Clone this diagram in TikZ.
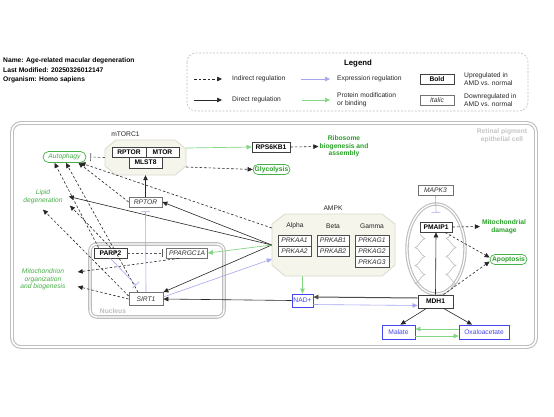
\documentclass[tikz,border=0pt]{standalone}
\usepackage{fontspec}
\setmainfont{Liberation Sans}
\usetikzlibrary{arrows.meta,shapes.misc}
\definecolor{cellgray}{RGB}{190,190,190}
\definecolor{txtgreen}{RGB}{70,175,70}
\definecolor{boldgreen}{RGB}{40,160,40}
\definecolor{lgreen}{RGB}{130,215,130}
\definecolor{exprblue}{RGB}{165,165,240}
\definecolor{metblue}{RGB}{70,70,240}
\definecolor{octfill}{RGB}{245,245,236}
\definecolor{octdraw}{RGB}{218,218,205}
\newcommand\myfs{\fontsize{6.7}{7.6}\selectfont}
\tikzset{
  gene/.style={draw=black!75, line width=0.8pt, fill=white, inner sep=0pt, minimum height=10pt, font=\myfs\bfseries},
  genei/.style={draw=black!55, line width=0.7pt, fill=white, inner sep=0pt, minimum height=10pt, font=\myfs\itshape, text=black!80},
  met/.style={draw=metblue, line width=0.8pt, fill=white, inner sep=0pt, text=metblue, font=\myfs},
  pill/.style={rounded rectangle, draw=txtgreen, line width=0.7pt, fill=white, inner sep=1pt, text=txtgreen, font=\myfs\itshape},
  pillb/.style={rounded rectangle, draw=txtgreen, line width=0.7pt, fill=white, inner sep=1pt, text=boldgreen, font=\myfs\bfseries},
  lab/.style={text=txtgreen, font=\myfs\itshape, align=center, inner sep=2pt},
  boldlab/.style={text=boldgreen, font=\myfs\bfseries, align=center, inner sep=2pt},
  plain/.style={font=\myfs, text=black!85, inner sep=1pt},
  tip/.style={-{Triangle[length=5pt,width=4.5pt]}},
  ind/.style={tip, black!85, line width=0.6pt, dash pattern=on 2.5pt off 2pt},
  dir/.style={tip, black!85, line width=0.6pt},
  dirthick/.style={tip, black!70, line width=1pt},
  expr/.style={-{Triangle[length=5pt,width=4.5pt]}, exprblue, line width=0.6pt},
  prot/.style={-{Triangle[length=5pt,width=4.5pt]}, lgreen, line width=0.7pt},
  inhdash/.style={-{Bar[width=8pt]}, black!65, line width=0.6pt, dash pattern=on 2.5pt off 2pt},
  inhblue/.style={-{Bar[width=9pt]}, exprblue, line width=0.6pt},
  oct/.style={fill=octfill, draw=octdraw, line width=0.8pt},
  cris/.style={cellgray, line width=0.6pt}
}
\begin{document}
\begin{tikzpicture}[x=1pt,y=-1pt]
\useasboundingbox (0,0) rectangle (554,416);
\fill[white] (0,0) rectangle (554,416);

% header
\node[anchor=west, font=\myfs\bfseries, inner sep=0] (t1) at (3,61) {Name: Age-related macular degeneration};
\node[anchor=west, font=\myfs\bfseries, inner sep=0] (t2) at (3,70.5) {Last Modified: 20250326012147};
\node[anchor=west, font=\myfs\bfseries, inner sep=0] (t3) at (3,80) {Organism: Homo sapiens};

% legend
\draw[gray!50, line width=0.6pt, dash pattern=on 2pt off 1.5pt, rounded corners=9pt] (187,53) rectangle (528,111);
\node[font=\fontsize{7.8}{9}\selectfont\bfseries] (lgtitle) at (358,63) {Legend};
\coordinate (l1a) at (194,79); \coordinate (l1b) at (222,79);
\draw[ind] (l1a) -- (l1b);
\node[plain, anchor=west] (l1t) at (231,79) {Indirect regulation};
\coordinate (l2a) at (301,79); \coordinate (l2b) at (330,79);
\draw[expr] (l2a) -- (l2b);
\node[plain, anchor=west] (l2t) at (336,79) {Expression regulation};
\node[gene, minimum width=34pt, minimum height=10pt] (lbold) at (437,79) {Bold};
\node[plain, anchor=west, align=left] (lup) at (463,79) {Upregulated in\\AMD vs. normal};
\coordinate (l3a) at (194,100); \coordinate (l3b) at (222,100);
\draw[dir] (l3a) -- (l3b);
\node[plain, anchor=west] (l3t) at (231,100) {Direct regulation};
\coordinate (l4a) at (302,100); \coordinate (l4b) at (330,100);
\draw[prot] (l4a) -- (l4b);
\node[plain, anchor=west, align=left] (l4t) at (336,100) {Protein modification\\or binding};
\node[genei, minimum width=34pt, minimum height=10pt] (lital) at (437,100) {Italic};
\node[plain, anchor=west, align=left] (ldown) at (463,100) {Downregulated in\\AMD vs. normal};

% cell
\draw[cellgray, line width=1.1pt, double=white, double distance=1.6pt, rounded corners=9pt] (12,123) rectangle (536,347);
\node[font=\myfs\bfseries, text=cellgray!90, align=center] (cellname) at (502,135.5) {Retinal pigment\\epithelial cell};

% nucleus
\draw[cellgray, line width=1.1pt, double=white, double distance=1.4pt, rounded corners=7pt] (90,244) rectangle (224,317);
\node[font=\myfs\bfseries, text=cellgray] (nuclab) at (113,311) {Nucleus};

% mitochondrion
\draw[cellgray, line width=1.1pt, double=white, double distance=1.2pt] (436,249) ellipse (29pt and 45pt);
\draw[cris] (420,234) sin (425,238.5) cos (420,243) sin (415,247.5) cos (420,252) sin (425,256.5) cos (420,261) sin (415,265.5) cos (420,270) sin (425,274.5) cos (420,279) sin (415,283.5) cos (420,288);
\draw[cris] (451,234) sin (446,238.5) cos (451,243) sin (456,247.5) cos (451,252) sin (446,256.5) cos (451,261) sin (456,265.5) cos (451,270) sin (446,274.5) cos (451,279) sin (456,283.5) cos (451,288);

% mTORC1 complex
\node[plain] (mtorlab) at (125.5,134) {mTORC1};
\draw[oct] (116,140)--(175,140)--(186,149)--(186,166)--(175,175)--(116,175)--(105,166)--(105,149)--cycle;
\node[inner sep=0, minimum width=81pt, minimum height=35pt] (mtorc1) at (145.5,157.5) {};
\node[gene, minimum width=34pt] (rptorc) at (129,152) {RPTOR};
\node[gene, minimum width=33pt] (mtor) at (162.5,152) {MTOR};
\node[gene, minimum width=33pt, minimum height=11pt] (mlst8) at (145.5,162.5) {MLST8};

% AMPK complex
\node[plain] (ampklab) at (333,208) {AMPK};
\draw[oct] (285,214)--(382,214)--(395,224)--(395,265)--(382,276)--(285,276)--(272,265)--(272,224)--cycle;
\node[inner sep=0, minimum width=123pt, minimum height=62pt] (ampk) at (333.5,245) {};
\node[plain] (alpha) at (295,226) {Alpha};
\node[plain] (beta) at (333,226) {Beta};
\node[plain] (gamma) at (372,226) {Gamma};
\node[genei, minimum width=33pt, minimum height=10.8pt, draw=black!70] (prkaa1) at (294.5,240.5) {PRKAA1};
\node[genei, minimum width=33pt, minimum height=10.8pt, draw=black!70] (prkaa2) at (294.5,251.3) {PRKAA2};
\node[genei, minimum width=32pt, minimum height=10.8pt, draw=black!70] (prkab1) at (333,240.5) {PRKAB1};
\node[genei, minimum width=32pt, minimum height=10.8pt, draw=black!70] (prkab2) at (333,251.3) {PRKAB2};
\node[genei, minimum width=34pt, minimum height=10.8pt, draw=black!70] (prkag1) at (372,240.5) {PRKAG1};
\node[genei, minimum width=34pt, minimum height=10.8pt, draw=black!70] (prkag2) at (372,251.3) {PRKAG2};
\node[genei, minimum width=34pt, minimum height=10.8pt, draw=black!70] (prkag3) at (372,262.1) {PRKAG3};

% other nodes
\node[pill, minimum width=45pt, minimum height=11pt] (autoph) at (64.5,157) {Autophagy};
\node[gene, minimum width=38pt] (rps) at (271,147) {RPS6KB1};
\node[boldlab] (ribo) at (344,146.5) {Ribosome\\biogenesis and\\assembly};
\node[pillb, minimum width=39pt, minimum height=10pt] (glyc) at (271.5,169.5) {Glycolysis};
\node[genei, minimum width=33pt] (rptor) at (145.5,202) {RPTOR};
\node[lab] (lipid) at (43,196.5) {Lipid\\degeneration};
\node[lab] (mito) at (43,279.5) {Mitochondrion\\organization\\and biogenesis};
\node[gene, minimum width=33pt] (parp2) at (110.5,253) {PARP2};
\node[genei, minimum width=41pt] (ppargc) at (187,253) {PPARGC1A};
\node[genei, minimum width=34pt, minimum height=13pt] (sirt1) at (146,299) {SIRT1};
\node[met, minimum width=21pt, minimum height=13pt] (nad) at (302.5,300.5) {NAD+};
\node[gene, minimum width=35pt, minimum height=13pt] (mdh1) at (435.5,301.5) {MDH1};
\node[met, minimum width=33pt, minimum height=14pt] (malate) at (398.5,332) {Malate};
\node[met, minimum width=50pt, minimum height=14pt] (oxal) at (484,332) {Oxaloacetate};
\node[genei, minimum width=35pt] (mapk3) at (435.5,190.5) {MAPK3};
\node[gene, minimum width=32pt] (pmaip1) at (436,227) {PMAIP1};
\node[boldlab] (mitodam) at (504,226.5) {Mitochondrial\\damage};
\node[pillb, minimum width=39pt, minimum height=10pt] (apop) at (508.5,259.5) {Apoptosis};

% connectors
\draw[inhdash] (mtorc1.west) -- ([xshift=4pt]autoph.east);
\draw[prot] ([yshift=9.5pt]mtorc1.east) -- (rps.west);
\draw[ind] (rps.east) -- ([xshift=1pt]ribo.west);
\draw[ind] ([yshift=-9.5pt]mtorc1.east) -- (glyc.west);
\draw[dir] (rptor.north) -- (mtorc1.south);
\draw[ind] (rptor.west) -- ([xshift=14pt]autoph.south);
\draw[ind] ([yshift=17pt]ampk.west) -- ([xshift=16pt]autoph.south);
\draw[ind] ([xshift=-12pt]parp2.north) -- ([xshift=-10pt]autoph.south);
\draw[ind] ([xshift=-8pt]sirt1.north) -- ([xshift=1.5pt]autoph.south);
\draw[ind] (parp2.north) -- ([xshift=27pt]lipid.south);
\draw[ind] ([yshift=3pt]sirt1.west) -- ([yshift=-4pt]lipid.south);
\draw[dir] (ampk.west) -- (rptor.east);
\draw[dir] (ampk.west) -- ([xshift=4pt]lipid.east);
\draw[dir] (ampk.west) -- (sirt1.north east);
\draw[expr] ([yshift=2pt]sirt1.east) -- ([yshift=-14pt]ampk.west);
\draw[prot] (ampk.west) -- (ppargc.east);
\draw[inhdash] (parp2.east) -- ([xshift=-4pt]ppargc.west);
\draw[ind] ([xshift=-8pt]ppargc.south) -- ([xshift=10pt,yshift=7.5pt]mito.east);
\draw[ind] (sirt1.west) -- ([xshift=10pt,yshift=-7pt]mito.east);
\draw[inhblue] (sirt1.north) -- ([yshift=-4pt]rptor.south);
\draw[inhblue] (parp2.south) -- ([xshift=-10pt,yshift=7pt]sirt1.north);
\draw[prot] ([xshift=-31pt]ampk.south) -- (nad.north);
\draw[dirthick] ([yshift=3.5pt]mdh1.west) -- ([yshift=3.5pt]nad.east);
\draw[expr] ([yshift=-4pt]nad.east) -- ([yshift=-4pt]mdh1.west);
\draw[dir] (nad.west) -- (sirt1.east);
\draw[dir] ([xshift=-9pt]mdh1.south) -- ([xshift=2pt]malate.north);
\draw[dir] ([xshift=8pt]mdh1.south) -- ([xshift=-12pt]oxal.north);
\draw[prot] ([yshift=3pt]oxal.west) -- ([yshift=3pt]malate.east);
\draw[prot] ([yshift=-4pt]malate.east) -- ([yshift=-4pt]oxal.west);
\draw[dir] (mdh1.north) -- (pmaip1.south);
\draw[inhblue] (mapk3.south) -- ([yshift=9pt]pmaip1.north);
\draw[ind] (pmaip1.east) -- (mitodam.west);
\draw[ind] ([xshift=9pt]pmaip1.south) -- ([yshift=2pt]apop.west);
\draw[ind] ([xshift=8pt]mdh1.north) -- ([yshift=-2pt]apop.west);
\end{tikzpicture}
\end{document}
